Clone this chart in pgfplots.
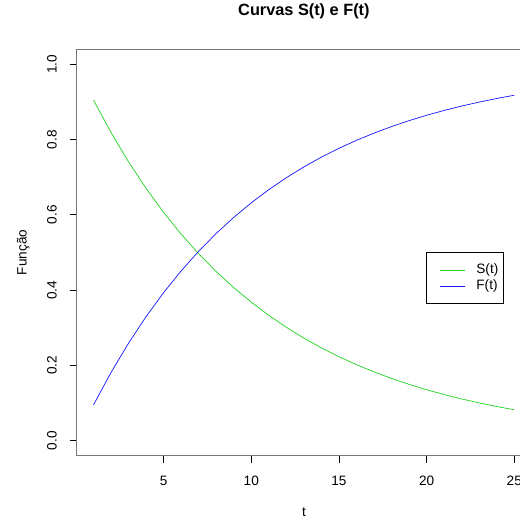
\documentclass[border=0pt]{standalone}
\usepackage{pgfplots}
\pgfplotsset{compat=1.18}
\usepackage{fontspec}
\setmainfont{Liberation Sans}
\definecolor{sgreen}{RGB}{30,210,30}
\definecolor{fblue}{RGB}{20,20,255}
\definecolor{boxgray}{RGB}{120,120,120}
\newcommand{\lblfont}{\fontsize{13.6bp}{16bp}\selectfont}

\begin{document}
\begin{tikzpicture}
\clip (0,0) rectangle (520bp,519bp);
\begin{axis}[
  at={(76.7bp,63.3bp)}, anchor=south west,
  scale only axis, width=454.4bp, height=406.4bp,
  xmin=0.04, xmax=25.96, ymin=-0.04, ymax=1.04,
  axis line style={boxgray, line width=1bp},
  xtick={5,10,15,20,25}, ytick={0,0.2,0.4,0.6,0.8,1},
  xtick pos=bottom, ytick pos=left,
  tick align=outside, major tick length=7bp,
  tick style={black, line width=0.8bp},
  /pgf/number format/assume math mode=true,
  ticklabel style={font=\lblfont},
  xticklabel style={anchor=north, inner sep=0pt},
  xticklabel shift=13.3bp,
  yticklabel style={rotate=90, anchor=south, inner sep=0pt,
    /pgf/number format/fixed, /pgf/number format/fixed zerofill,
    /pgf/number format/precision=1},
  yticklabel shift=12.7bp,
  title={Curvas S(t) e F(t)},
  title style={at={(axis description cs:0.5,1.0696)}, anchor=base, inner sep=0pt,
    yshift=0pt, font=\bfseries\fontsize{16.3bp}{19bp}\selectfont},
  xlabel={t},
  xlabel style={at={(axis description cs:0.5,-0.1484)}, anchor=base, inner sep=0pt,
    font=\lblfont},
  ylabel={Função},
  ylabel style={at={(axis description cs:-0.110,0.5)}, anchor=base, inner sep=0pt,
    font=\lblfont},
  legend style={at={(0.7694,0.5005)}, anchor=north west, draw=black,
    line width=0.8bp, fill=white, inner xsep=5bp, inner ysep=11bp,
    row sep=2.7bp, column sep=0pt, font=\lblfont,
    nodes={inner sep=0pt, text height=10bp, text depth=3bp}},
  legend cell align=left,
  legend image code/.code={
    \path[draw=none] (-8bp,0bp) -- (36.7bp,0bp);
    \draw[#1] (0bp,0bp) -- (25bp,0bp);},
]
% S(t): survival curve
\addplot[color=sgreen, draw=sgreen, line width=0.7bp] coordinates {
  (1,0.9048) (2,0.8187) (3,0.7408) (4,0.6703) (5,0.6065)
  (6,0.5488) (7,0.4966) (8,0.4493) (9,0.4066) (10,0.3679)
  (11,0.3329) (12,0.3012) (13,0.2725) (14,0.2466) (15,0.2231)
  (16,0.2019) (17,0.1827) (18,0.1653) (19,0.1496) (20,0.1353)
  (21,0.1225) (22,0.1108) (23,0.1003) (24,0.0907) (25,0.0821)
};
\addlegendentry{S(t)}
% F(t) = 1 - S(t): distribution function
\addplot[color=fblue, draw=fblue, line width=0.7bp] coordinates {
  (1,0.0952) (2,0.1813) (3,0.2592) (4,0.3297) (5,0.3935)
  (6,0.4512) (7,0.5034) (8,0.5507) (9,0.5934) (10,0.6321)
  (11,0.6671) (12,0.6988) (13,0.7275) (14,0.7534) (15,0.7769)
  (16,0.7981) (17,0.8173) (18,0.8347) (19,0.8504) (20,0.8647)
  (21,0.8775) (22,0.8892) (23,0.8997) (24,0.9093) (25,0.9179)
};
\addlegendentry{F(t)}
\end{axis}
\end{tikzpicture}
\end{document}
